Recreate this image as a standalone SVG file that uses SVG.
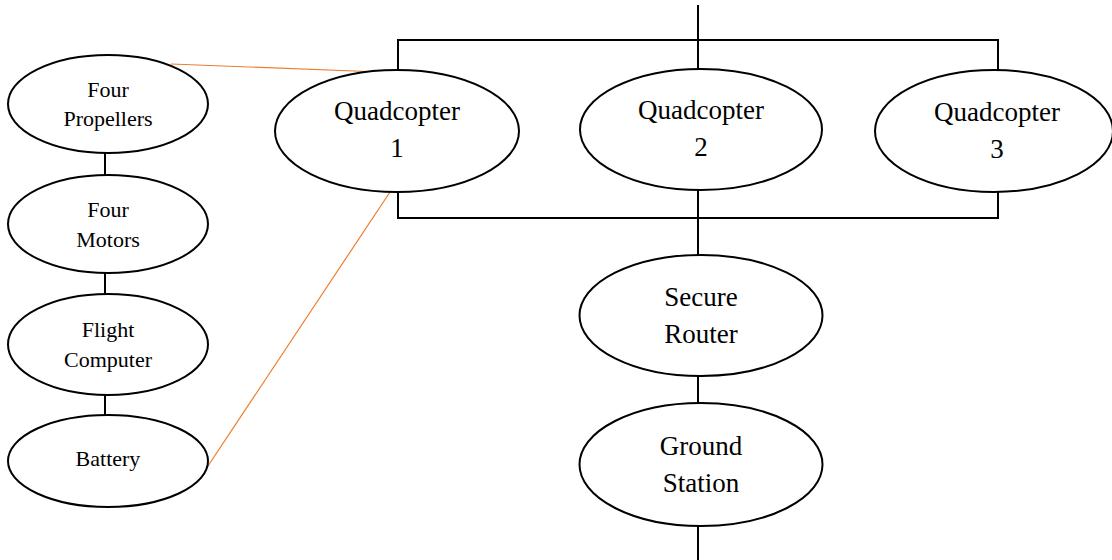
<svg xmlns="http://www.w3.org/2000/svg" width="1112" height="560" viewBox="0 0 1112 560">
<style>
.n{fill:#fff;stroke:#000;stroke-width:2}
.c{fill:none;stroke:#000;stroke-width:2}
.o{fill:none;stroke:#ED7D31;stroke-width:1.2}
.t{font-family:"Liberation Serif",serif;font-size:27px;fill:#000;text-anchor:middle}
.s{font-family:"Liberation Serif",serif;font-size:22px;fill:#000;text-anchor:middle}
</style>
<rect width="1112" height="560" fill="#fff"/>
<g id="connectors">
<path class="c" d="M698 5V40M398 70V40H998V72M698 40V69"/>
<path class="c" d="M398 192V218H998V192M698 190V256"/>
<path class="c" d="M698 376V403M698 526V560"/>
<path class="c" d="M105 153V175M105 273V294M105 395V415"/>
<path class="o" d="M171 64L380 72M390 192L200 478"/>
</g>
<g id="four-propellers"><ellipse class="n" cx="108" cy="104" rx="100" ry="49"/><text class="s" x="108" y="97">Four</text><text class="s" x="108" y="126">Propellers</text></g>
<g id="four-motors"><ellipse class="n" cx="108" cy="224" rx="100" ry="49"/><text class="s" x="108" y="217">Four</text><text class="s" x="108" y="247">Motors</text></g>
<g id="flight-computer"><ellipse class="n" cx="108" cy="344.5" rx="100" ry="50.5"/><text class="s" x="108" y="337">Flight</text><text class="s" x="108" y="367">Computer</text></g>
<g id="battery"><ellipse class="n" cx="108" cy="461" rx="100" ry="46"/><text class="s" x="108" y="466">Battery</text></g>
<g id="quadcopter-1"><ellipse class="n" cx="397" cy="131" rx="122" ry="61"/><text class="t" x="397" y="120">Quadcopter</text><text class="t" x="397" y="157">1</text></g>
<g id="quadcopter-2"><ellipse class="n" cx="701" cy="129.5" rx="121" ry="60.5"/><text class="t" x="701" y="119">Quadcopter</text><text class="t" x="701" y="156">2</text></g>
<g id="quadcopter-3"><ellipse class="n" cx="994" cy="131" rx="119" ry="61"/><text class="t" x="997" y="121">Quadcopter</text><text class="t" x="997" y="158">3</text></g>
<g id="secure-router"><ellipse class="n" cx="701" cy="315.5" rx="121.5" ry="60.5"/><text class="t" x="701" y="306">Secure</text><text class="t" x="701" y="343">Router</text></g>
<g id="ground-station"><ellipse class="n" cx="701" cy="464.5" rx="121.5" ry="61.5"/><text class="t" x="701" y="455">Ground</text><text class="t" x="701" y="492">Station</text></g>
</svg>
